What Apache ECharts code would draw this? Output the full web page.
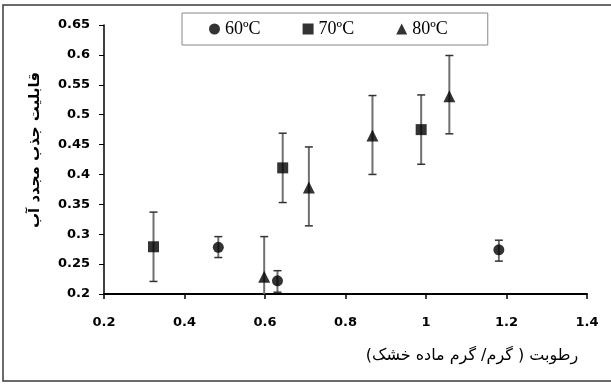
<!DOCTYPE html>
<html>
<head>
<meta charset="utf-8">
<script src="https://cdn.jsdelivr.net/npm/echarts@6/dist/echarts.min.js"></script>
<style>html,body{margin:0;padding:0;background:#fff}#c{width:611px;height:385px}</style>
</head>
<body>
<div id="c"></div>
<script>
// Moisture (g/g dry matter) vs rehydration capacity
const seriesNames = ['60\u00BAC', '70\u00BAC', '80\u00BAC'];
const x60 = [0.484, 0.631, 1.181];
const y60 = [0.278, 0.222, 0.274];
const lo60 = [0.261, 0.203, 0.255];
const hi60 = [0.296, 0.239, 0.290];
const x70 = [0.323, 0.644, 0.988];
const y70 = [0.279, 0.411, 0.475];
const lo70 = [0.221, 0.353, 0.417];
const hi70 = [0.337, 0.469, 0.533];
const x80 = [0.598, 0.709, 0.867, 1.058];
const y80 = [0.229, 0.378, 0.465, 0.531];
const lo80 = [0.162, 0.314, 0.400, 0.468];
const hi80 = [0.296, 0.446, 0.532, 0.599];
const xTicks = [0.2, 0.4, 0.6, 0.8, 1, 1.2, 1.4];
const yTicks = [0.2, 0.25, 0.3, 0.35, 0.4, 0.45, 0.5, 0.55, 0.6, 0.65];
const xTitle = '\u200Fرطوبت ( گرم/ گرم ماده خشک)\u200F';
const yTitle = 'قابلیت جذب مجدد آب';

const pts = (xs, ys) => xs.map((x, i) => [x, ys[i]]);
const errs = (xs, lo, hi) => xs.map((x, i) => [x, lo[i], hi[i]]);

function renderErr(params, api) {
  const x = api.value(0);
  const top = api.coord([x, api.value(2)]);
  const bot = api.coord([x, api.value(1)]);
  const cw = 4;
  return {
    type: 'group',
    children: [
      { type: 'line', shape: { x1: top[0], y1: top[1], x2: bot[0], y2: bot[1] }, style: { stroke: '#707070', lineWidth: 2 } },
      { type: 'line', shape: { x1: top[0] - cw, y1: top[1], x2: top[0] + cw, y2: top[1] }, style: { stroke: '#333', lineWidth: 1.5 } },
      { type: 'line', shape: { x1: bot[0] - cw, y1: bot[1], x2: bot[0] + cw, y2: bot[1] }, style: { stroke: '#333', lineWidth: 1.5 } }
    ]
  };
}

const fmt = v => String(parseFloat(v.toFixed(2)));
const chart = echarts.init(document.getElementById('c'));
chart.setOption({
  animation: false,
  backgroundColor: '#fff',
  grid: { left: 104, right: 24, top: 25, bottom: 91 },
  legend: {
    data: [
      { name: seriesNames[0], icon: 'circle' },
      { name: seriesNames[1], icon: 'rect' },
      { name: seriesNames[2], icon: 'triangle' }
    ],
    left: 182, top: 13,
    padding: [7, 40, 7, 27],
    itemGap: 42,
    itemWidth: 11, itemHeight: 11,
    borderColor: '#888', borderWidth: 1,
    textStyle: { fontFamily: 'Liberation Serif', fontSize: 18, color: '#000' }
  },
  xAxis: {
    type: 'value', min: xTicks[0], max: xTicks[xTicks.length - 1], interval: 0.2,
    axisLine: { show: true, onZero: false, lineStyle: { color: '#000', width: 2 } },
    axisTick: { show: true, inside: false, length: 5, lineStyle: { color: '#000', width: 1.5 } },
    axisLabel: { margin: 22, formatter: fmt, fontFamily: 'DejaVu Sans', fontWeight: 'bold', fontSize: 13, color: '#000' },
    splitLine: { show: false }
  },
  yAxis: {
    type: 'value', min: yTicks[0], max: yTicks[yTicks.length - 1], interval: 0.05,
    axisLine: { show: true, onZero: false, lineStyle: { color: '#000', width: 1.5 } },
    axisTick: { show: true, inside: false, length: 5, lineStyle: { color: '#000', width: 1 } },
    axisLabel: { margin: 14, formatter: fmt, fontFamily: 'DejaVu Sans', fontWeight: 'bold', fontSize: 13, color: '#000' },
    splitLine: { show: false }
  },
  graphic: [
    { type: 'rect', silent: true, shape: { x: 3, y: 5, width: 620, height: 376 }, style: { fill: 'none', stroke: '#3a3a3a', lineWidth: 1.5 } },
    { type: 'text', x: 35, y: 150, rotation: Math.PI / 2, style: { text: yTitle, fontFamily: 'DejaVu Sans', fontWeight: 'bold', fontSize: 15, fill: '#000', align: 'center', verticalAlign: 'middle' } },
    { type: 'text', x: 472, y: 356, style: { text: xTitle, fontFamily: 'DejaVu Sans', fontSize: 16, fill: '#000', align: 'center', verticalAlign: 'middle' } }
  ],
  series: [
    { type: 'custom', name: 'err60', renderItem: renderErr, data: errs(x60, lo60, hi60), clip: true, z: 1 },
    { type: 'custom', name: 'err70', renderItem: renderErr, data: errs(x70, lo70, hi70), clip: true, z: 1 },
    { type: 'custom', name: 'err80', renderItem: renderErr, data: errs(x80, lo80, hi80), clip: true, z: 1 },
    { type: 'scatter', name: seriesNames[0], symbol: 'circle', symbolSize: 11, itemStyle: { color: '#000' }, data: pts(x60, y60), z: 3 },
    { type: 'scatter', name: seriesNames[1], symbol: 'rect', symbolSize: 11, itemStyle: { color: '#000' }, data: pts(x70, y70), z: 3 },
    { type: 'scatter', name: seriesNames[2], symbol: 'triangle', symbolSize: 12, itemStyle: { color: '#000' }, data: pts(x80, y80), z: 3 }
  ]
});
</script>
</body>
</html>
